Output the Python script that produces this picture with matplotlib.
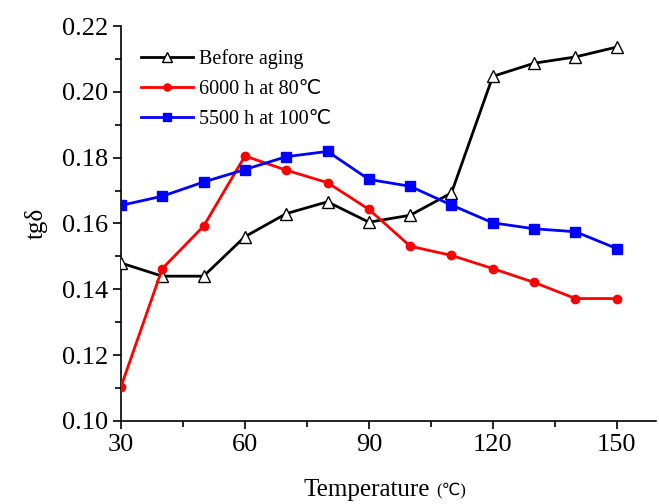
import numpy as np
import matplotlib
matplotlib.use("Agg")
import matplotlib.pyplot as plt
from matplotlib.ticker import MultipleLocator

plt.rcParams['font.family'] = ['Liberation Serif', 'DejaVu Sans']

# dielectric loss tangent vs temperature
temp = [30, 40, 50, 60, 70, 80, 90, 100, 110, 120, 130, 140, 150]
tg_before = [0.148, 0.144, 0.144, 0.156, 0.163, 0.1666, 0.1604, 0.1625, 0.1693,
             0.2047, 0.2087, 0.2106, 0.2136]
tg_6000h_80 = [0.1104, 0.1463, 0.1592, 0.1805, 0.1762, 0.1724, 0.1643, 0.1531,
               0.1503, 0.1463, 0.1421, 0.1372, 0.1372]
tg_5500h_100 = [0.1655, 0.1683, 0.1726, 0.1764, 0.1803, 0.1819, 0.1734, 0.1713,
                0.1656, 0.1602, 0.1584, 0.1575, 0.1524]

fig = plt.figure(figsize=(6.59, 5.04), dpi=100)
ax = fig.add_axes([0.1836, 0.1647, 0.8118, 0.7837])

ax.plot(temp, tg_before, color='black', lw=2, marker='^', ms=8,
        mfc='white', mec='black', mew=1, label='Before aging', zorder=3)
ax.plot(temp, tg_6000h_80, color='red', lw=2, marker='o', ms=6,
        label='6000 h at 80\u2103', zorder=3)
ax.plot(temp, tg_5500h_100, color='blue', lw=2, marker='s', ms=7,
        label='5500 h at 100\u2103', zorder=3)

ax.set_xlim(30, 159.5)
ax.set_ylim(0.10, 0.22)
ax.xaxis.set_major_locator(MultipleLocator(30))
ax.xaxis.set_minor_locator(MultipleLocator(15))
ax.yaxis.set_major_locator(MultipleLocator(0.02))
ax.yaxis.set_minor_locator(MultipleLocator(0.01))
ax.yaxis.set_major_formatter(plt.FormatStrFormatter('%.2f'))
ax.tick_params(which='major', direction='out', length=6, width=1.2, labelsize=19)
ax.tick_params(which='minor', direction='out', length=4, width=1.2)
ax.spines['top'].set_visible(False)
ax.spines['right'].set_visible(False)
ax.spines['left'].set_linewidth(1.2)
ax.spines['bottom'].set_linewidth(1.2)

# x label: word in normal size, unit in small print
fig.text(430 / 659, 1 - 490 / 504, 'Temperature', fontsize=18, ha='right', va='center')
fig.text(436 / 659, 1 - 491 / 504, '(\u2103)', fontsize=12, ha='left', va='center')
ax.set_ylabel('tg\u03b4', fontsize=18, labelpad=10)

ax.legend(loc='upper left', bbox_to_anchor=(0.0, 0.993), frameon=False,
          fontsize=14.5, handlelength=2.6, handletextpad=0.25, labelspacing=0.55,
          borderaxespad=0.6, markerscale=0.85)

fig.savefig('out.png', dpi=100)
